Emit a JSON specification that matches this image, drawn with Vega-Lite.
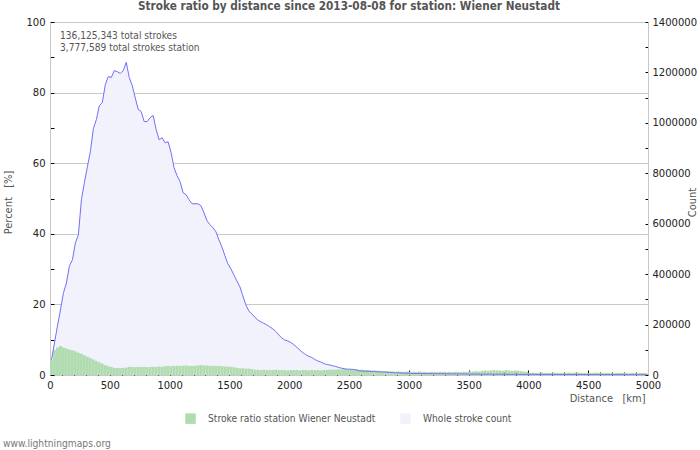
{
  "$schema": "https://vega.github.io/schema/vega-lite/v6.json",
  "width": 598,
  "height": 353,
  "autosize": "none",
  "padding": {"left": 50, "top": 22, "right": 52, "bottom": 75},
  "background": "white",
  "config": {
    "view": {"stroke": null},
    "font": "DejaVu Sans",
    "axis": {"labelFont": "DejaVu Sans", "labelFontSize": 10, "labelColor": "#222", "titleFont": "DejaVu Sans Condensed", "titleFontWeight": "normal", "titleFontSize": 11, "titleColor": "#555", "tickColor": "#000", "domainColor": "#c8c8c8"}
  },
  "title": {"text": "Stroke ratio by distance since 2013-08-08 for station: Wiener Neustadt", "font": "DejaVu Sans Condensed", "fontSize": 11.7, "fontWeight": "bold", "color": "#555", "anchor": "middle", "offset": 4},
  "datasets": {
    "main": [
      {"d":12.5,"p":4.3,"c":60000},{"d":37.5,"p":7.1,"c":127000},{"d":62.5,"p":7.8,"c":195000},{"d":87.5,"p":8.2,"c":258000},{"d":112.5,"p":7.8,"c":326000},
      {"d":137.5,"p":7.5,"c":365000},{"d":162.5,"p":7.2,"c":433000},{"d":187.5,"p":7.0,"c":457000},{"d":212.5,"p":6.7,"c":524000},{"d":237.5,"p":6.3,"c":556000},
      {"d":262.5,"p":6.0,"c":695000},{"d":287.5,"p":5.6,"c":763000},{"d":312.5,"p":5.2,"c":826000},{"d":337.5,"p":4.8,"c":886000},{"d":362.5,"p":4.4,"c":977000},
      {"d":387.5,"p":4.0,"c":1013000},{"d":412.5,"p":3.6,"c":1068000},{"d":437.5,"p":3.2,"c":1080000},{"d":462.5,"p":2.8,"c":1152000},{"d":487.5,"p":2.5,"c":1184000},
      {"d":512.5,"p":2.3,"c":1180000},{"d":537.5,"p":2.0,"c":1207000},{"d":562.5,"p":2.0,"c":1203000},{"d":587.5,"p":2.0,"c":1196000},{"d":612.5,"p":2.0,"c":1207000},
      {"d":637.5,"p":2.1,"c":1240000},{"d":662.5,"p":2.3,"c":1180000},{"d":687.5,"p":2.3,"c":1148000},{"d":712.5,"p":2.2,"c":1100000},{"d":737.5,"p":2.3,"c":1053000},
      {"d":762.5,"p":2.3,"c":1045000},{"d":787.5,"p":2.3,"c":1005000},{"d":812.5,"p":2.2,"c":1005000},{"d":837.5,"p":2.3,"c":1021000},{"d":862.5,"p":2.3,"c":1029000},
      {"d":887.5,"p":2.3,"c":973000},{"d":912.5,"p":2.4,"c":933000},{"d":937.5,"p":2.3,"c":941000},{"d":962.5,"p":2.5,"c":921000},{"d":987.5,"p":2.6,"c":925000},
      {"d":1012.5,"p":2.5,"c":882000},{"d":1037.5,"p":2.6,"c":822000},{"d":1062.5,"p":2.6,"c":790000},{"d":1087.5,"p":2.6,"c":767000},{"d":1112.5,"p":2.6,"c":723000},
      {"d":1137.5,"p":2.7,"c":715000},{"d":1162.5,"p":2.6,"c":695000},{"d":1187.5,"p":2.6,"c":679000},{"d":1212.5,"p":2.6,"c":679000},{"d":1237.5,"p":2.7,"c":679000},
      {"d":1262.5,"p":2.8,"c":671000},{"d":1287.5,"p":2.7,"c":643000},{"d":1312.5,"p":2.7,"c":612000},{"d":1337.5,"p":2.6,"c":596000},{"d":1362.5,"p":2.6,"c":584000},
      {"d":1387.5,"p":2.6,"c":568000},{"d":1412.5,"p":2.6,"c":536000},{"d":1437.5,"p":2.5,"c":508000},{"d":1462.5,"p":2.4,"c":473000},{"d":1487.5,"p":2.4,"c":441000},
      {"d":1512.5,"p":2.3,"c":421000},{"d":1537.5,"p":2.2,"c":397000},{"d":1562.5,"p":2.0,"c":373000},{"d":1587.5,"p":1.9,"c":350000},{"d":1612.5,"p":1.9,"c":314000},
      {"d":1637.5,"p":1.8,"c":278000},{"d":1662.5,"p":1.8,"c":254000},{"d":1687.5,"p":1.7,"c":242000},{"d":1712.5,"p":1.5,"c":230000},{"d":1737.5,"p":1.5,"c":218000},
      {"d":1762.5,"p":1.4,"c":211000},{"d":1787.5,"p":1.5,"c":205000},{"d":1812.5,"p":1.4,"c":199000},{"d":1837.5,"p":1.4,"c":191000},{"d":1862.5,"p":1.4,"c":183000},
      {"d":1887.5,"p":1.5,"c":173000},{"d":1912.5,"p":1.4,"c":159000},{"d":1937.5,"p":1.4,"c":147000},{"d":1962.5,"p":1.4,"c":139000},{"d":1987.5,"p":1.3,"c":135000},
      {"d":2012.5,"p":1.4,"c":129000},{"d":2037.5,"p":1.4,"c":121000},{"d":2062.5,"p":1.4,"c":111000},{"d":2087.5,"p":1.3,"c":99000},{"d":2112.5,"p":1.4,"c":89000},
      {"d":2137.5,"p":1.4,"c":81000},{"d":2162.5,"p":1.3,"c":74000},{"d":2187.5,"p":1.4,"c":70000},{"d":2212.5,"p":1.4,"c":62000},{"d":2237.5,"p":1.4,"c":56000},
      {"d":2262.5,"p":1.3,"c":52000},{"d":2287.5,"p":1.4,"c":46000},{"d":2312.5,"p":1.4,"c":42000},{"d":2337.5,"p":1.5,"c":40000},{"d":2362.5,"p":1.5,"c":37000},
      {"d":2387.5,"p":1.5,"c":34000},{"d":2412.5,"p":1.6,"c":30000},{"d":2437.5,"p":1.6,"c":27000},{"d":2462.5,"p":1.7,"c":25000},{"d":2487.5,"p":1.6,"c":23000},
      {"d":2512.5,"p":1.6,"c":23000},{"d":2537.5,"p":1.5,"c":22000},{"d":2562.5,"p":1.6,"c":20000},{"d":2587.5,"p":1.5,"c":16500},{"d":2612.5,"p":1.5,"c":15500},
      {"d":2637.5,"p":1.4,"c":15000},{"d":2662.5,"p":1.4,"c":14500},{"d":2687.5,"p":1.3,"c":14000},{"d":2712.5,"p":1.3,"c":13500},{"d":2737.5,"p":1.2,"c":13000},
      {"d":2762.5,"p":1.1,"c":12500},{"d":2787.5,"p":1.0,"c":12000},{"d":2812.5,"p":1.1,"c":11000},{"d":2837.5,"p":1.0,"c":10500},{"d":2862.5,"p":1.0,"c":10000},
      {"d":2887.5,"p":0.9,"c":9000},{"d":2912.5,"p":1.0,"c":8500},{"d":2937.5,"p":0.9,"c":8000},{"d":2962.5,"p":0.9,"c":7500},{"d":2987.5,"p":1.0,"c":7000},
      {"d":3012.5,"p":0.9,"c":6500},{"d":3037.5,"p":0.9,"c":6300},{"d":3062.5,"p":0.9,"c":6100},{"d":3087.5,"p":1.0,"c":6000},{"d":3112.5,"p":0.9,"c":5800},
      {"d":3137.5,"p":0.9,"c":5600},{"d":3162.5,"p":0.8,"c":5500},{"d":3187.5,"p":0.9,"c":5300},{"d":3212.5,"p":0.9,"c":5200},{"d":3237.5,"p":0.8,"c":5000},
      {"d":3262.5,"p":0.9,"c":4900},{"d":3287.5,"p":0.9,"c":4800},{"d":3312.5,"p":0.8,"c":4700},{"d":3337.5,"p":0.9,"c":4500},{"d":3362.5,"p":0.8,"c":4400},
      {"d":3387.5,"p":0.9,"c":4300},{"d":3412.5,"p":0.9,"c":4200},{"d":3437.5,"p":0.8,"c":4100},{"d":3462.5,"p":0.9,"c":4000},{"d":3487.5,"p":0.9,"c":3900},
      {"d":3512.5,"p":1.0,"c":3800},{"d":3537.5,"p":1.0,"c":3700},{"d":3562.5,"p":1.1,"c":3700},{"d":3587.5,"p":1.0,"c":3600},{"d":3612.5,"p":1.2,"c":3500},
      {"d":3637.5,"p":1.3,"c":3400},{"d":3662.5,"p":1.2,"c":3400},{"d":3687.5,"p":1.3,"c":3300},{"d":3712.5,"p":1.4,"c":3200},{"d":3737.5,"p":1.3,"c":3200},
      {"d":3762.5,"p":1.3,"c":3100},{"d":3787.5,"p":1.2,"c":3000},{"d":3812.5,"p":1.4,"c":3000},{"d":3837.5,"p":1.3,"c":2900},{"d":3862.5,"p":1.2,"c":2900},
      {"d":3887.5,"p":1.3,"c":2800},{"d":3912.5,"p":1.2,"c":2700},{"d":3937.5,"p":1.1,"c":2700},{"d":3962.5,"p":1.0,"c":2600},{"d":3987.5,"p":0.9,"c":2600},
      {"d":4012.5,"p":0.6,"c":2500},{"d":4037.5,"p":0.7,"c":2500},{"d":4062.5,"p":0.6,"c":2400},{"d":4087.5,"p":0.6,"c":2400},{"d":4112.5,"p":0.7,"c":2400},
      {"d":4137.5,"p":0.6,"c":2300},{"d":4162.5,"p":0.6,"c":2300},{"d":4187.5,"p":0.6,"c":2200},{"d":4212.5,"p":0.7,"c":2200},{"d":4237.5,"p":0.6,"c":2200},
      {"d":4262.5,"p":0.6,"c":2100},{"d":4287.5,"p":0.6,"c":2100},{"d":4312.5,"p":0.6,"c":2100},{"d":4337.5,"p":0.7,"c":2000},{"d":4362.5,"p":0.6,"c":2000},
      {"d":4387.5,"p":0.7,"c":2000},{"d":4412.5,"p":0.7,"c":1900},{"d":4437.5,"p":0.6,"c":1900},{"d":4462.5,"p":0.6,"c":1900},{"d":4487.5,"p":0.6,"c":1800},
      {"d":4512.5,"p":0.6,"c":1800},{"d":4537.5,"p":0.6,"c":1800},{"d":4562.5,"p":0.7,"c":1700},{"d":4587.5,"p":0.6,"c":1700},{"d":4612.5,"p":0.6,"c":1700},
      {"d":4637.5,"p":0.6,"c":1600},{"d":4662.5,"p":0.6,"c":1600},{"d":4687.5,"p":0.6,"c":1600},{"d":4712.5,"p":0.5,"c":1600},{"d":4737.5,"p":0.6,"c":1500},
      {"d":4762.5,"p":0.6,"c":1500},{"d":4787.5,"p":0.6,"c":1500},{"d":4812.5,"p":0.6,"c":1500},{"d":4837.5,"p":0.5,"c":1400},{"d":4862.5,"p":0.6,"c":1400},
      {"d":4887.5,"p":0.6,"c":1400},{"d":4912.5,"p":0.5,"c":1400},{"d":4937.5,"p":0.6,"c":1300},{"d":4962.5,"p":0.6,"c":1300},{"d":4987.5,"p":0.5,"c":1300}
    ]
  },
  "data": {"name": "main"},
  "encoding": {
    "x": {
      "field": "d", "type": "quantitative",
      "scale": {"domain": [0, 5000], "nice": false, "zero": false, "padding": 0},
      "axis": {
        "values": [0,100,200,300,400,500,600,700,800,900,1000,1100,1200,1300,1400,1500,1600,1700,1800,1900,2000,2100,2200,2300,2400,2500,2600,2700,2800,2900,3000,3100,3200,3300,3400,3500,3600,3700,3800,3900,4000,4100,4200,4300,4400,4500,4600,4700,4800,4900,5000],
        "labelExpr": "datum.value % 500 === 0 ? datum.label : ''",
        "format": "d",
        "labelFlush": false, "labelOverlap": false, "labelBound": false,
        "tickSize": {"condition": {"test": "datum.value % 500 === 0", "value": -5}, "value": -3},
        "labelPadding": 10,
        "domain": false, "grid": false,
        "title": "Distance\u00a0\u00a0\u00a0[km]", "titleX": 595, "titleY": 23, "titleAlign": "right", "titleBaseline": "middle", "titleAnchor": "end"
      }
    }
  },
  "layer": [
    {
      "mark": {"type": "area", "interpolate": "linear"},
      "encoding": {
        "y": {"field": "c", "type": "quantitative", "scale": {"domain": [0, 1400000], "nice": false},
          "axis": {"orient": "right", "values": [0,100000,200000,300000,400000,500000,600000,700000,800000,900000,1000000,1100000,1200000,1300000,1400000],
            "format": "d", "labelExpr": "datum.value % 200000 === 0 ? datum.label : ''", "labelOverlap": false, "labelFlush": false, "labelBound": false,
            "tickSize": -3, "labelPadding": 7, "grid": false,
            "title": "Count", "titleAngle": 270, "titleX": 44, "titleY": 180, "titleAlign": "center", "titleBaseline": "middle"}},
        "color": {"datum": "Whole stroke count", "type": "nominal",
          "scale": {"domain": ["Stroke ratio station Wiener Neustadt", "Whole stroke count"], "range": ["#b0dcb0", "#f2f2fc"]},
          "legend": {"title": null, "orient": "none", "legendX": 135, "legendY": 391, "direction": "horizontal", "symbolType": "square", "symbolSize": 110, "symbolStrokeWidth": 0,
            "labelFont": "DejaVu Sans Condensed", "labelFontSize": 10.2, "labelColor": "#555", "labelOffset": 12, "labelLimit": 400, "columnPadding": 24}}
      }
    },
    {
      "mark": {"type": "bar", "width": 2.9, "color": "#a9d8aa"},
      "encoding": {
        "y": {"field": "p", "type": "quantitative", "scale": {"domain": [0, 100], "nice": false},
          "axis": {"orient": "left", "values": [0,10,20,30,40,50,60,70,80,90,100],
            "labelExpr": "datum.value % 20 === 0 ? datum.label : ''", "labelOverlap": false, "labelFlush": false, "labelBound": false,
            "tickSize": -4, "labelPadding": 9,
            "grid": true, "gridColor": "#c8c8c8", "gridOpacity": {"condition": {"test": "datum.value % 20 === 0", "value": 1}, "value": 0},
            "title": "Percent\u00a0\u00a0\u00a0[%]", "titleAngle": 270, "titleX": -42, "titleY": 180, "titleAlign": "center", "titleBaseline": "middle"}},
        "color": {"datum": "Stroke ratio station Wiener Neustadt", "type": "nominal"}
      }
    },
    {
      "mark": {"type": "line", "color": "#7070f8", "strokeWidth": 1, "interpolate": "linear"},
      "encoding": {
        "y": {"field": "c", "type": "quantitative", "scale": {"domain": [0, 1400000], "nice": false}, "axis": null}
      }
    },
    {
      "data": {"values": [{"d": 84, "p": 96.1, "t": "136,125,343 total strokes"}, {"d": 84, "p": 92.7, "t": "3,777,589 total strokes station"}]},
      "mark": {"type": "text", "align": "left", "baseline": "middle", "font": "DejaVu Sans Condensed", "fontSize": 10.1, "color": "#555"},
      "encoding": {
        "y": {"field": "p", "type": "quantitative", "scale": {"domain": [0, 100], "nice": false}, "axis": null},
        "text": {"field": "t"}
      }
    },
    {
      "data": {"values": [{"d": -393, "p": -19.6, "t": "www.lightningmaps.org"}]},
      "mark": {"type": "text", "align": "left", "baseline": "middle", "font": "DejaVu Sans Condensed", "fontSize": 10.2, "color": "#777"},
      "encoding": {
        "y": {"field": "p", "type": "quantitative", "scale": {"domain": [0, 100], "nice": false}, "axis": null},
        "text": {"field": "t"}
      }
    }
  ],
  "resolve": {"scale": {"y": "independent"}}
}
